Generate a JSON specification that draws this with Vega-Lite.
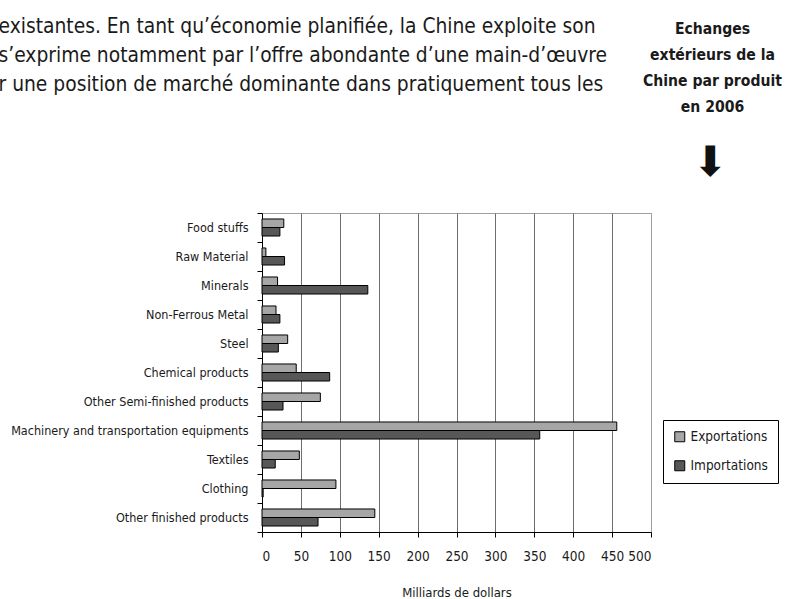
{
  "$schema": "https://vega.github.io/schema/vega-lite/v6.json",
  "width": 389,
  "height": 319,
  "autosize": {"type": "none"},
  "padding": {"left": 262, "top": 213, "right": 136, "bottom": 67},
  "background": "white",
  "data": {
    "values": [
      {"product": "Food stuffs", "type": "Exportations", "value": 28},
      {"product": "Food stuffs", "type": "Importations", "value": 23},
      {"product": "Raw Material", "type": "Exportations", "value": 5},
      {"product": "Raw Material", "type": "Importations", "value": 29},
      {"product": "Minerals", "type": "Exportations", "value": 20},
      {"product": "Minerals", "type": "Importations", "value": 136},
      {"product": "Non-Ferrous Metal", "type": "Exportations", "value": 18},
      {"product": "Non-Ferrous Metal", "type": "Importations", "value": 23},
      {"product": "Steel", "type": "Exportations", "value": 33},
      {"product": "Steel", "type": "Importations", "value": 21},
      {"product": "Chemical products", "type": "Exportations", "value": 44},
      {"product": "Chemical products", "type": "Importations", "value": 87},
      {"product": "Other Semi-finished products", "type": "Exportations", "value": 75},
      {"product": "Other Semi-finished products", "type": "Importations", "value": 27},
      {"product": "Machinery and transportation equipments", "type": "Exportations", "value": 456},
      {"product": "Machinery and transportation equipments", "type": "Importations", "value": 357},
      {"product": "Textiles", "type": "Exportations", "value": 48},
      {"product": "Textiles", "type": "Importations", "value": 17},
      {"product": "Clothing", "type": "Exportations", "value": 95},
      {"product": "Clothing", "type": "Importations", "value": 1.5},
      {"product": "Other finished products", "type": "Exportations", "value": 145},
      {"product": "Other finished products", "type": "Importations", "value": 72}
    ]
  },
  "layer": [
    {
      "mark": {"type": "bar", "stroke": "black", "strokeWidth": 1},
      "encoding": {
        "y": {
          "field": "product",
          "type": "nominal",
          "sort": null,
          "scale": {"paddingInner": 0, "paddingOuter": 0},
          "axis": {
            "orient": "left",
            "title": [
              "existantes. En tant qu’économie planifiée, la Chine exploite son",
              "s’exprime notamment par l’offre abondante d’une main-d’œuvre",
              "r une position de marché dominante dans pratiquement tous les"
            ],
            "titleX": -264,
            "titleY": -181,
            "titleAngle": 0,
            "titleAlign": "left",
            "titleBaseline": "alphabetic",
            "titleFont": "DejaVu Sans Condensed, sans-serif",
            "titleFontSize": 20.8,
            "titleFontWeight": "normal",
            "titleLineHeight": 29,
            "titleColor": "#1a1a1a",
            "titleLimit": 1000,
            "tickBand": "extent",
            "tickSize": 5,
            "tickColor": "black",
            "domainColor": "black",
            "labelFont": "DejaVu Sans Condensed, sans-serif",
            "labelFontSize": 12.5,
            "labelColor": "#1a1a1a",
            "labelPadding": 9,
            "labelLimit": 400,
            "grid": false
          }
        },
        "yOffset": {
          "field": "type",
          "type": "nominal",
          "sort": ["Exportations", "Importations"],
          "scale": {"paddingInner": 0, "paddingOuter": 0.7}
        },
        "x": {
          "field": "value",
          "type": "quantitative",
          "scale": {"domain": [0, 500], "nice": false},
          "axis": {
            "orient": "bottom",
            "values": [0, 50, 100, 150, 200, 250, 300, 350, 400, 450, 500],
            "labelOverlap": false,
            "title": "Milliards de dollars",
            "titleFont": "DejaVu Sans Condensed, sans-serif",
            "titleFontSize": 13,
            "titleFontWeight": "normal",
            "titleColor": "#1a1a1a",
            "titlePadding": 24,
            "labelFont": "DejaVu Sans Condensed, sans-serif",
            "labelFontSize": 13.5,
            "labelColor": "#1a1a1a",
            "labelPadding": 12,
            "tickSize": 5,
            "tickColor": "black",
            "domainColor": "black",
            "grid": true,
            "gridColor": {"condition": {"test": "datum.value === 500", "value": "#a0a0a0"}, "value": "#6e6e6e"},
            "gridWidth": 1
          }
        },
        "color": {
          "field": "type",
          "type": "nominal",
          "scale": {"domain": ["Exportations", "Importations"], "range": ["#a6a6a6", "#575757"]},
          "legend": {
            "orient": "none",
            "legendX": 401,
            "legendY": 207,
            "title": null,
            "strokeColor": "black",
            "fillColor": "white",
            "padding": 10,
            "symbolType": "square",
            "symbolSize": 100,
            "symbolStrokeColor": "black",
            "symbolStrokeWidth": 1,
            "symbolOpacity": 1,
            "labelFont": "DejaVu Sans Condensed, sans-serif",
            "labelFontSize": 13.5,
            "labelColor": "#1a1a1a",
            "labelOffset": 4,
            "rowPadding": 14
          }
        }
      }
    },
    {
      "mark": {"type": "bar", "opacity": 0, "fillOpacity": 0, "strokeOpacity": 0},
      "encoding": {
        "y": {
          "field": "product",
          "type": "nominal",
          "sort": null,
          "axis": {
            "orient": "right",
            "title": ["Echanges", "extérieurs de la", "Chine par produit", "en 2006"],
            "titleX": 61,
            "titleY": -180,
            "titleAngle": 0,
            "titleAlign": "center",
            "titleBaseline": "alphabetic",
            "titleFont": "DejaVu Sans Condensed, sans-serif",
            "titleFontSize": 15.6,
            "titleFontWeight": "bold",
            "titleLineHeight": 26.3,
            "titleColor": "#1a1a1a",
            "titleLimit": 1000,
            "labels": false,
            "ticks": false,
            "domain": false,
            "grid": false
          }
        },
        "x": {
          "field": "value",
          "type": "quantitative",
          "axis": {
            "orient": "top",
            "title": "⬇",
            "titleX": 447.5,
            "titleY": -50.5,
            "titleAngle": 0,
            "titleAlign": "center",
            "titleBaseline": "middle",
            "titleFont": "DejaVu Sans",
            "titleFontSize": 42,
            "titleFontWeight": "normal",
            "titleColor": "#111111",
            "labels": false,
            "ticks": false,
            "domain": false,
            "grid": false
          }
        }
      }
    }
  ],
  "resolve": {"axis": {"x": "independent", "y": "independent"}},
  "config": {"view": {"stroke": "#a0a0a0"}}
}
